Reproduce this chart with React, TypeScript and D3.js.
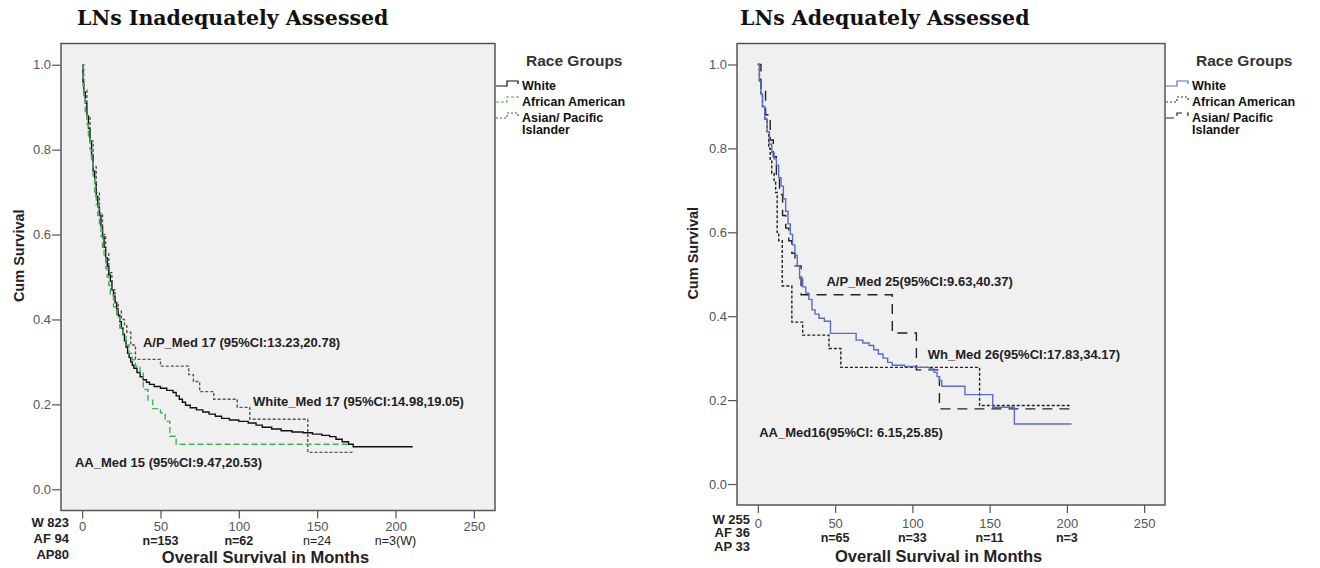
import React, { useEffect, useRef } from "react";
import * as d3 from "d3";

// axis ticks
const monthTicks = [0, 50, 100, 150, 200, 250];
const survTicks = [0, 0.2, 0.4, 0.6, 0.8, 1.0];
const raceLabels = ["White", "African American", "Asian/ Pacific", "Islander"];

// LNs inadequately assessed: [month, cum survival]
const inadWhite = [[0, 1.0], [0.5, 0.96], [1, 0.935], [2, 0.91], [3, 0.88], [4, 0.85], [5, 0.82], [6, 0.785], [7, 0.75], [8, 0.72], [9, 0.69], [10, 0.665], [11, 0.645], [12, 0.62], [13, 0.595], [14, 0.57], [15, 0.545], [16, 0.525], [17, 0.505], [18, 0.49], [19, 0.47], [20, 0.455], [21, 0.44], [22, 0.425], [23, 0.41], [24, 0.395], [25, 0.38], [26, 0.365], [27, 0.35], [28, 0.335], [29, 0.32], [30, 0.31], [31, 0.3], [32, 0.292], [33, 0.285], [35, 0.275], [37, 0.265], [39, 0.258], [41, 0.252], [43, 0.247], [46, 0.242], [50, 0.238], [54, 0.233], [58, 0.228], [60, 0.22], [62, 0.212], [64, 0.205], [66, 0.198], [69, 0.192], [73, 0.187], [77, 0.182], [81, 0.177], [85, 0.172], [89, 0.167], [94, 0.163], [100, 0.16], [106, 0.156], [111, 0.151], [115, 0.146], [121, 0.142], [127, 0.138], [134, 0.135], [141, 0.133], [147, 0.13], [153, 0.127], [158, 0.124], [162, 0.118], [166, 0.112], [170, 0.106], [173, 0.1]];
const inadWhiteEnd = 211;
const inadAA = [[0, 1.0], [0.5, 0.95], [1, 0.92], [2, 0.89], [3, 0.86], [4, 0.83], [5, 0.8], [6, 0.77], [7, 0.735], [8, 0.7], [9, 0.67], [10, 0.645], [11, 0.62], [12, 0.595], [13, 0.57], [14, 0.545], [15, 0.52], [16, 0.5], [17, 0.48], [18, 0.46], [20, 0.43], [22, 0.405], [24, 0.38], [26, 0.36], [28, 0.34], [30, 0.32], [32, 0.305], [34, 0.29], [37, 0.275], [39, 0.235], [42, 0.21], [45, 0.19], [50, 0.18], [53, 0.16], [56, 0.125], [60, 0.106]];
const inadAAEnd = 170;
const inadAP = [[0, 1.0], [1, 0.94], [3, 0.88], [5, 0.82], [7, 0.76], [9, 0.7], [11, 0.65], [13, 0.6], [15, 0.555], [17, 0.51], [19, 0.47], [21, 0.44], [23, 0.42], [25, 0.4], [27, 0.385], [28.5, 0.37], [31, 0.34], [34, 0.306], [50, 0.29], [68, 0.27], [71, 0.254], [75, 0.23], [84, 0.212], [99, 0.193], [107, 0.165], [144, 0.087]];
const inadAPEnd = 173;
const inadCounts = ["W 823", "AF 94", "AP80"];
const inadAtRisk = ["n=153", "n=62", "n=24", "n=3(W)"];
const inadAtRiskBold = [true, true, false, false];
const inadNotes = [
  { text: "A/P_Med 17 (95%CI:13.23,20.78)", t: 38.8, s: 0.346 },
  { text: "White_Med 17 (95%CI:14.98,19.05)", t: 109, s: 0.207 },
  { text: "AA_Med 15 (95%CI:9.47,20.53)", t: -4.6, s: 0.063 },
];

// LNs adequately assessed
const adWhite = [[0, 1.0], [1, 0.96], [2, 0.93], [3, 0.9], [4.5, 0.87], [6, 0.84], [7.5, 0.81], [9, 0.79], [10.5, 0.775], [12, 0.76], [13.5, 0.73], [15, 0.71], [16.5, 0.68], [18, 0.65], [19.5, 0.62], [21, 0.595], [22.5, 0.57], [24, 0.545], [25.5, 0.52], [27, 0.49], [29, 0.47], [31, 0.455], [33, 0.44], [35, 0.415], [37, 0.405], [39.6, 0.395], [43, 0.388], [47, 0.359], [63.6, 0.343], [68, 0.336], [72, 0.33], [75, 0.32], [78, 0.31], [81, 0.3], [84, 0.29], [87, 0.283], [95, 0.28], [103, 0.278], [111, 0.274], [114, 0.266], [116, 0.256], [117.5, 0.247], [119, 0.233], [134, 0.213], [152, 0.183], [166, 0.143]];
const adWhiteEnd = 203;
const adAA = [[0, 1.0], [1, 0.96], [2, 0.93], [3, 0.9], [4.5, 0.87], [6, 0.84], [7, 0.8], [8, 0.77], [9, 0.74], [10.5, 0.72], [11.5, 0.695], [12.5, 0.6], [13.5, 0.58], [15.8, 0.472], [22, 0.386], [29, 0.355], [46, 0.323], [53.7, 0.278], [143.5, 0.187]];
const adAAEnd = 202;
const adAP = [[0, 1.0], [2, 0.94], [5, 0.88], [8, 0.82], [10, 0.78], [12, 0.73], [14, 0.69], [16, 0.64], [18, 0.61], [20, 0.58], [22, 0.55], [24, 0.52], [28, 0.451], [87, 0.36], [102.6, 0.272], [117.5, 0.179]];
const adAPEnd = 202;
const adCounts = ["W 255", "AF 36", "AP 33"];
const adAtRisk = ["n=65", "n=33", "n=11", "n=3"];
const adAtRiskBold = [true, true, true, true];
const adNotes = [
  { text: "A/P_Med 25(95%CI:9.63,40.37)", t: 44.4, s: 0.482 },
  { text: "Wh_Med 26(95%CI:17.83,34.17)", t: 110, s: 0.308 },
  { text: "AA_Med16(95%CI: 6.15,25.85)", t: 0.9, s: 0.122 },
];

const SANS = "Arial, 'Liberation Sans', sans-serif";

const panels = [
  {
    title: "LNs Inadequately Assessed", titleX: 77,
    left: 61, right: 495, top: 43.5, bottom: 510.5,
    series: [
      { pts: inadWhite, end: inadWhiteEnd, color: "#111", dash: null, w: 1.4 },
      { pts: inadAP, end: inadAPEnd, color: "#555", dash: "3,2", w: 1.4 },
      { pts: inadAA, end: inadAAEnd, color: "#3fb35a", dash: "6,3", w: 1.4 },
    ],
    legend: [
      { color: "#111", dash: null },
      { color: "#3fb35a", dash: "3,2" },
      { color: "#555", dash: "2,2" },
    ],
    counts: inadCounts, countsX: 69, countsY: [527, 543, 559],
    atRisk: inadAtRisk, atRiskBold: inadAtRiskBold, atRiskY: 545,
    notes: inadNotes, yTitleX: 19, xTitleY: 563, tickGap: 3,
  },
  {
    title: "LNs Adequately Assessed", titleX: 740,
    left: 737, right: 1165, top: 43.5, bottom: 505,
    series: [
      { pts: adAA, end: adAAEnd, color: "#222", dash: "3,2", w: 1.4 },
      { pts: adAP, end: adAPEnd, color: "#222", dash: "10,7", w: 1.4 },
      { pts: adWhite, end: adWhiteEnd, color: "#5b6dc6", dash: null, w: 1.4 },
    ],
    legend: [
      { color: "#5b6dc6", dash: null },
      { color: "#333", dash: "2,2" },
      { color: "#222", dash: "8,5" },
    ],
    counts: adCounts, countsX: 750, countsY: [524, 537, 551],
    atRisk: adAtRisk, atRiskBold: adAtRiskBold, atRiskY: 542,
    notes: adNotes, yTitleX: 693, xTitleY: 562, tickGap: 6,
  },
];

function drawPanel(svg, p) {
  const x = d3.scaleLinear().domain([-13.5, 263.5]).range([p.left, p.right]);
  const y = d3.scaleLinear().domain([-0.05, 1.05]).range([p.bottom, p.top]);
  const g = svg.append("g");

  g.append("text")
    .attr("x", p.titleX).attr("y", 25)
    .attr("font-family", "'DejaVu Serif', serif").attr("font-weight", "bold")
    .attr("font-size", 20.5).attr("fill", "#111")
    .text(p.title);

  g.append("rect")
    .attr("x", p.left).attr("y", p.top)
    .attr("width", p.right - p.left).attr("height", p.bottom - p.top)
    .attr("fill", "#f0f0f0").attr("stroke", "#555").attr("stroke-width", 1.5);

  // y axis
  const ya = g.append("g")
    .attr("transform", `translate(${p.left},0)`)
    .call(d3.axisLeft(y).tickValues(survTicks).tickFormat(d3.format(".1f")).tickSize(9).tickPadding(1));
  ya.select(".domain").remove();
  ya.selectAll("text").attr("font-family", SANS).attr("font-size", 13).attr("fill", "#555");
  ya.selectAll("line").attr("stroke", "#555").attr("stroke-width", 1.2);

  // x axis
  const xa = g.append("g")
    .attr("transform", `translate(0,${p.bottom})`)
    .call(d3.axisBottom(x).tickValues(monthTicks).tickSize(8).tickPadding(p.tickGap));
  xa.select(".domain").remove();
  xa.selectAll("text").attr("font-family", SANS).attr("font-size", 13).attr("fill", "#555");
  xa.selectAll("line").attr("stroke", "#555").attr("stroke-width", 1.2);

  // survival curves
  const line = d3.line().x((d) => x(d[0])).y((d) => y(d[1])).curve(d3.curveStepAfter);
  p.series.forEach((s) => {
    const pts = s.pts.concat([[s.end, s.pts[s.pts.length - 1][1]]]);
    g.append("path")
      .attr("d", line(pts))
      .attr("fill", "none")
      .attr("stroke", s.color)
      .attr("stroke-width", s.w)
      .attr("stroke-dasharray", s.dash);
  });

  // median notes
  p.notes.forEach((n) => {
    g.append("text")
      .attr("x", x(n.t)).attr("y", y(n.s)).attr("dy", "0.35em")
      .attr("font-family", SANS).attr("font-weight", "bold").attr("font-size", 13)
      .attr("fill", "#222").text(n.text);
  });

  // numbers at risk
  p.atRisk.forEach((t, i) => {
    g.append("text")
      .attr("x", x(monthTicks[i + 1])).attr("y", p.atRiskY)
      .attr("text-anchor", "middle")
      .attr("font-family", SANS).attr("font-size", 12.5)
      .attr("font-weight", p.atRiskBold[i] ? "bold" : "normal")
      .attr("fill", "#222").text(t);
  });
  p.counts.forEach((t, i) => {
    g.append("text")
      .attr("x", p.countsX).attr("y", p.countsY[i])
      .attr("text-anchor", "end")
      .attr("font-family", SANS).attr("font-size", 13).attr("font-weight", "bold")
      .attr("fill", "#222").text(t);
  });

  // axis titles
  g.append("text")
    .attr("x", x(117)).attr("y", p.xTitleY)
    .attr("text-anchor", "middle")
    .attr("font-family", SANS).attr("font-size", 16.5).attr("font-weight", "bold")
    .attr("fill", "#222").text("Overall Survival in Months");
  g.append("text")
    .attr("transform", `translate(${p.yTitleX + 5},${y(0.55)}) rotate(-90)`)
    .attr("text-anchor", "middle")
    .attr("font-family", SANS).attr("font-size", 14.5).attr("font-weight", "bold")
    .attr("fill", "#222").text("Cum Survival");

  // legend
  const lx = p.right;
  g.append("text")
    .attr("x", lx + 31).attr("y", 66)
    .attr("font-family", SANS).attr("font-size", 15.5).attr("font-weight", "bold")
    .attr("fill", "#333").text("Race Groups");
  const itemY = [90, 106, 122, 134];
  raceLabels.forEach((t, i) => {
    g.append("text")
      .attr("x", lx + 27).attr("y", itemY[i])
      .attr("font-family", SANS).attr("font-size", 12.5).attr("font-weight", "bold")
      .attr("fill", "#111").text(t);
  });
  p.legend.forEach((l, i) => {
    const base = itemY[i] - 4;
    g.append("path")
      .attr("d", `M${lx + 1},${base} H${lx + 12} V${base - 5} H${lx + 23} V${base - 2}`)
      .attr("fill", "none")
      .attr("stroke", l.color)
      .attr("stroke-width", 1.2)
      .attr("stroke-dasharray", l.dash);
  });
}

export default function App() {
  const svgRef = useRef(null);

  useEffect(() => {
    const svg = d3.select(svgRef.current);
    svg.selectAll("*").remove();
    svg.append("rect").attr("width", 1320).attr("height", 568).attr("fill", "#fff");
    panels.forEach((p) => drawPanel(svg, p));
  }, []);

  return (
    <svg
      ref={svgRef}
      width={1320}
      height={568}
      style={{ position: "absolute", left: 0, top: 0 }}
    />
  );
}
